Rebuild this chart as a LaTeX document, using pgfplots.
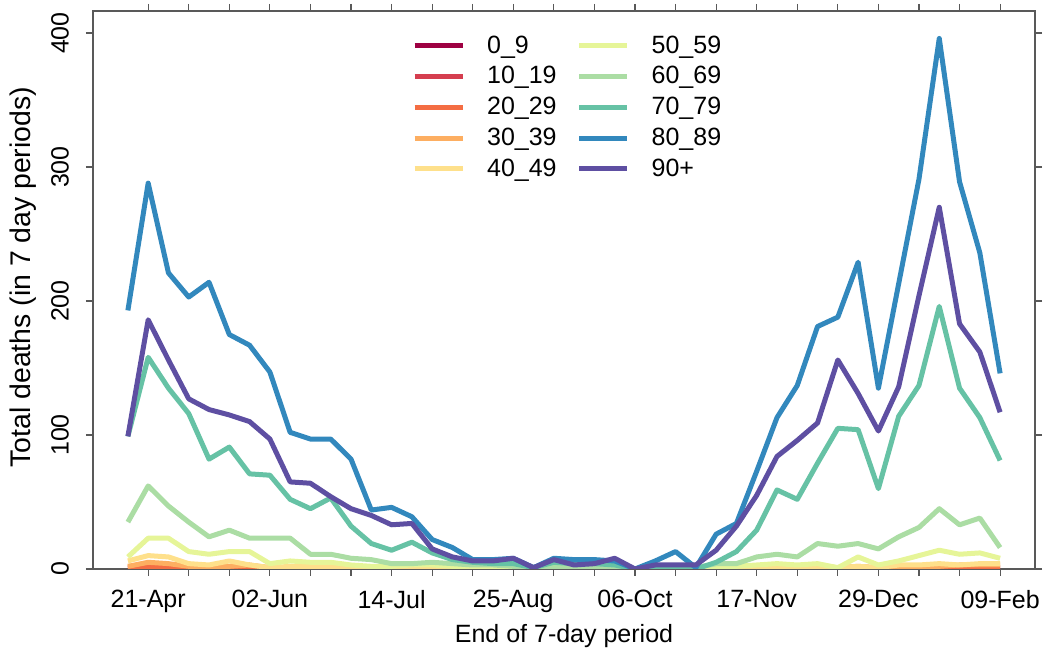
\documentclass[border=0pt]{standalone}
\usepackage{pgfplots}
\pgfplotsset{compat=1.18}
\usepackage{pgfplotstable}
\usepackage{fontspec}
\setmainfont{Liberation Sans}
\definecolor{c0}{HTML}{9E0142}
\definecolor{c1}{HTML}{D53E4F}
\definecolor{c2}{HTML}{F46D43}
\definecolor{c3}{HTML}{FDAE61}
\definecolor{c4}{HTML}{FEE08B}
\definecolor{c5}{HTML}{E6F598}
\definecolor{c6}{HTML}{ABDDA4}
\definecolor{c7}{HTML}{66C2A5}
\definecolor{c8}{HTML}{3288BD}
\definecolor{c9}{HTML}{5E4FA2}
\pgfplotstableread{
i  a0 a1 a2 a3 a4 a5 a6 a7 a8 a9
0  0  0  1  2  6  9  35 99  193 99
1  0  1  2  5  10 23 62 158 288 186
2  0  0  1  4  9  23 47 135 221 156
3  0  0  1  2  4  13 35 116 203 127
4  0  0  0  1  3  11 24 82  214 119
5  0  0  1  2  6  13 29 91  175 115
6  0  0  0  3  3  13 23 71  167 110
7  0  0  0  1  1  4  23 70  147 97
8  0  0  0  0  2  6  23 52  102 65
9  0  0  0  1  2  5  11 45  97  64
10 0  0  0  0  2  5  11 53  97  54
11 0  0  0  0  1  3  8  32  82  45
12 0  0  0  0  1  2  7  19  44  40
13 0  0  0  0  1  2  4  14  46  33
14 0  0  0  0  1  3  4  20  39  34
15 0  0  0  0  0  3  5  12  22  15
16 0  0  0  0  1  2  4  7   16  9
17 0  0  0  0  0  1  3  5   7   6
18 0  0  0  0  0  1  3  4   7   6
19 0  0  0  0  0  1  2  4   8   8
20 0  0  0  0  0  0  1  1   1   1
21 0  0  0  0  0  1  2  5   8   7
22 0  0  0  0  0  1  2  4   7   3
23 0  0  0  0  0  1  2  4   7   4
24 0  0  0  0  0  0  1  3   6   8
25 0  0  0  0  0  0  0  0   0   0
26 0  0  0  0  0  0  1  2   6   3
27 0  0  0  0  0  1  2  2   13  3
28 0  0  0  0  0  0  1  0   1   3
29 0  0  0  0  1  1  4  5   26  14
30 0  0  0  0  1  2  4  13  34  32
31 0  0  0  1  1  3  9  29  73  55
32 0  0  2  1  2  4  11 59  113 84
33 0  0  0  1  1  3  9  52  137 96
34 0  0  0  1  2  4  19 79  181 109
35 0  0  1  1  1  1  17 105 188 156
36 0  0  1  2  2  9  19 104 229 131
37 0  0  0  1  1  3  15 60  135 103
38 0  0  0  1  3  6  24 114 213 136
39 0  0  0  2  3  10 31 137 291 204
40 0  0  0  2  4  14 45 196 396 270
41 0  0  0  3  3  11 33 135 289 183
42 0  0  1  3  4  12 38 113 236 162
43 0  0  1  3  4  8  16 81  146 117
}\deaths
\begin{document}
\begin{tikzpicture}
\begin{axis}[
  scale only axis, width=471pt, height=279pt,
  xmin=-1.72, xmax=44.72, ymin=0, ymax=416.5,
  axis line style={draw=black!65, line width=0.6pt},
  tick style={draw=black!65, line width=0.6pt},
  tick align=outside, major tick length=3.5pt,
  xtick={1,3,...,43},
  xticklabels={21-Apr,,,02-Jun,,,14-Jul,,,25-Aug,,,06-Oct,,,17-Nov,,,29-Dec,,,09-Feb},
  ytick={0,100,200,300,400},
  yticklabel style={xshift=-5pt, rotate=90, anchor=south},
  xticklabel style={yshift=-3.5pt},
  /pgf/number format/assume math mode=true,
  every tick label/.append style={font=\fontsize{12.5}{15}\selectfont},
  xlabel={End of 7-day period},
  ylabel={Total deaths (in 7 day periods)},
  xlabel style={font=\fontsize{12.5}{15}\selectfont, at={(rel axis cs:0.5,0)}, anchor=base, yshift=-37pt},
  ylabel style={font=\fontsize{14.2}{17}\selectfont, at={([xshift=-31.5pt]rel axis cs:0,0.523)}, anchor=base, rotate=0},
  legend columns=2,
  legend cell align=left,
  legend style={at={(rel axis cs:0.332,0.971)}, anchor=north west, draw=none, fill=none,
    font=\fontsize{12.5}{15}\selectfont, row sep=1.15pt,
    /tikz/every odd column/.append style={column sep=9pt},
    /tikz/every even column/.append style={column sep=8pt}},
  legend image code/.code={\draw[#1, line width=2.5pt] (0pt,0pt) -- (24pt,0pt);},
  every axis plot/.append style={line width=2.5pt, line join=round},
]
\addplot[c0, forget plot] table[x=i, y=a0] {\deaths};
\addplot[c1, forget plot] table[x=i, y=a1] {\deaths};
\addplot[c2, forget plot] table[x=i, y=a2] {\deaths};
\addplot[c3, forget plot] table[x=i, y=a3] {\deaths};
\addplot[c4, forget plot] table[x=i, y=a4] {\deaths};
\addplot[c5, forget plot] table[x=i, y=a5] {\deaths};
\addplot[c6, forget plot] table[x=i, y=a6] {\deaths};
\addplot[c7, forget plot] table[x=i, y=a7] {\deaths};
\addplot[c8, forget plot] table[x=i, y=a8] {\deaths};
\addplot[c9, forget plot] table[x=i, y=a9] {\deaths};
\addlegendimage{c0}\addlegendentry{0\_9}
\addlegendimage{c5}\addlegendentry{50\_59}
\addlegendimage{c1}\addlegendentry{10\_19}
\addlegendimage{c6}\addlegendentry{60\_69}
\addlegendimage{c2}\addlegendentry{20\_29}
\addlegendimage{c7}\addlegendentry{70\_79}
\addlegendimage{c3}\addlegendentry{30\_39}
\addlegendimage{c8}\addlegendentry{80\_89}
\addlegendimage{c4}\addlegendentry{40\_49}
\addlegendimage{c9}\addlegendentry{90+}
\coordinate (sw) at (rel axis cs:0,0);
\coordinate (ne) at (rel axis cs:1,1);
\end{axis}
\pgfresetboundingbox
\path[use as bounding box] ([shift={(-46.5pt,-41pt)}]sw) rectangle ([shift={(4pt,5.5pt)}]ne);
\end{tikzpicture}
\end{document}
